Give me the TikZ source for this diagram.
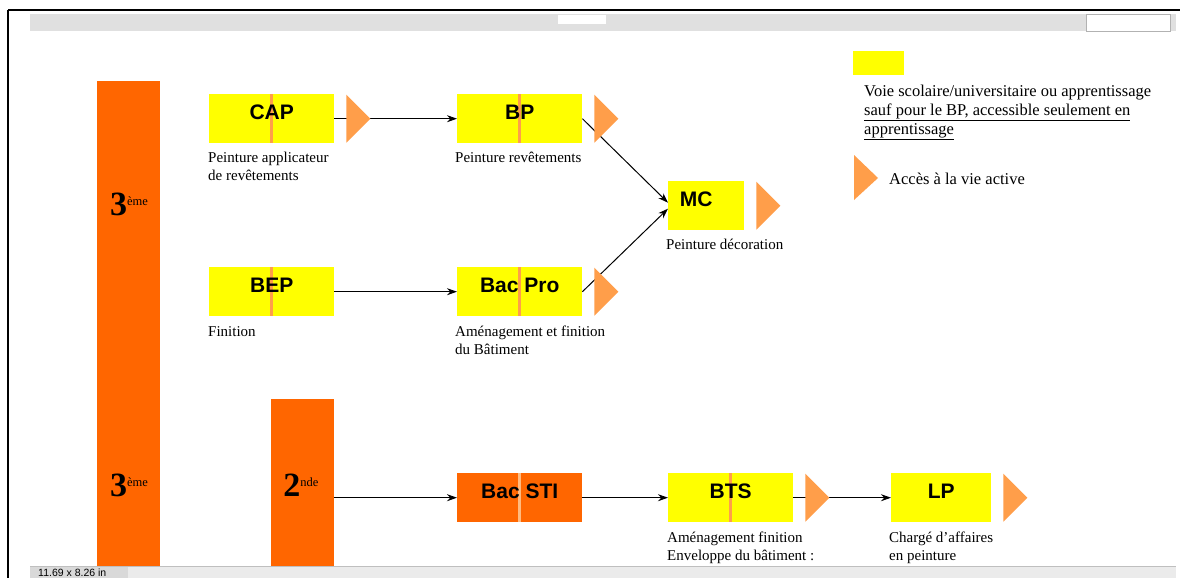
\documentclass[tikz,border=0pt]{standalone}
\usepackage{fontspec}
\setmainfont{Liberation Serif}
\newfontfamily\boxfont{Liberation Sans}
\usetikzlibrary{arrows.meta}

\definecolor{niveau}{HTML}{FF6600}
\definecolor{sortiecol}{HTML}{FF9E4A}
\definecolor{cursuscol}{HTML}{FFFF00}

\begin{document}
\begin{tikzpicture}[x=1pt, y=-1pt,
  cursus/.style={fill=cursuscol, minimum width=125pt, minimum height=49pt, inner sep=0pt, anchor=north west},
  etroit/.style={cursus, minimum width=76pt},
  sti/.style={cursus, fill=niveau},
  barre/.style={fill=niveau, inner sep=0pt, anchor=north west, minimum width=63pt},
  stripe/.style={sortiecol, line width=3pt},
  titre/.style={font=\boxfont\fontsize{21}{21}\selectfont\bfseries},
  sous/.style={anchor=north west, inner sep=0pt, align=left, font=\fontsize{15}{18}\selectfont},
  flow/.style={-{Stealth[length=10pt,width=7pt]}, line width=1pt}]
\useasboundingbox (0,0) rectangle (1180,578);
\fill[white] (0,0) rectangle (1180,578);
% viewer frame and toolbar
\fill[black!12] (30,14) rectangle (1176,31);
\fill[white] (558,15) rectangle (606,24);
\fill[white, draw=black!30] (1086,14) rectangle (1170,31);
\draw[line width=2.5pt] (8,10) -- (1180,10);
\draw[line width=1.5pt] (8,10) -- (8,578);
% levels
\node[barre, minimum height=489pt] (troisieme) at (97,81) {};
\node[barre, minimum height=171pt] (seconde) at (271,399) {};
\node at (129,204) {\textbf{\fontsize{34}{34}\selectfont 3}\raisebox{10pt}{\fontsize{12.5}{12}\selectfont ème}};
\node at (129,485) {\textbf{\fontsize{34}{34}\selectfont 3}\raisebox{10pt}{\fontsize{12.5}{12}\selectfont ème}};
\node at (301,485) {\textbf{\fontsize{34}{34}\selectfont 2}\raisebox{10pt}{\fontsize{12.5}{12}\selectfont nde}};
% diplomas
\node[cursus] (cap) at (209,94) {};
\node[cursus] (bp) at (457,94) {};
\node[etroit] (mc) at (668,181) {};
\node[cursus] (bep) at (209,267) {};
\node[cursus] (bacpro) at (457,267) {};
\node[sti] (bacsti) at (457,473) {};
\node[cursus] (bts) at (668,473) {};
\node[etroit, minimum width=100pt] (lp) at (891,473) {};
\foreach \b in {cap,bp,bep,bacpro,bts}
  \draw[stripe] (\b.north) -- (\b.south);
\draw[stripe, sortiecol!70!white] (bacsti.north) -- (bacsti.south);
\node[titre] at ([yshift=6pt]cap.center) {CAP};
\node[titre] at ([yshift=6pt]bp.center) {BP};
\node[titre] at ([xshift=-10pt,yshift=6pt]mc.center) {MC};
\node[titre] at ([yshift=6pt]bep.center) {BEP};
\node[titre] at ([yshift=6pt]bacpro.center) {Bac Pro};
\node[titre] at ([yshift=6pt]bacsti.center) {Bac STI};
\node[titre] at ([yshift=6pt]bts.center) {BTS};
\node[titre] at ([yshift=6pt]lp.center) {LP};
% specialities
\node[sous] (capt) at (208,152) {Peinture applicateur\\de revêtements};
\node[sous] (bpt) at (455,152) {Peinture revêtements};
\node[sous] (mct) at (666,239) {Peinture décoration};
\node[sous] (bept) at (208,326) {Finition};
\node[sous] (bacprot) at (455,326) {Aménagement et finition\\du Bâtiment};
\node[sous] (btst) at (667,532) {Aménagement finition\\Enveloppe du bâtiment :};
\node[sous] (lpt) at (889,532) {Chargé d’affaires\\en peinture};
% links
\draw[flow] (cap.east) -- (bp.west);
\draw[flow] (bp.east) -- ([yshift=3pt]mc.west);
\draw[flow] (bacpro.east) -- ([yshift=-3pt]mc.west);
\draw[flow] (bep.east) -- (bacpro.west);
\draw[flow] (seconde.east |- bacsti.west) -- (bacsti.west);
\draw[flow] (bacsti.east) -- (bts.west);
\draw[flow] (bts.east) -- (lp.west);
% exits to working life
\foreach \b in {cap,bp,mc,bacpro,bts,lp}
  \fill[sortiecol, shift={(\b.east)}] (12,-24) -- (36,0) -- (12,24) -- cycle;
% legend
\fill[cursuscol] (853,51) rectangle (904,75);
\node[anchor=north west, inner sep=0pt, align=left, font=\fontsize{16.5}{19}\selectfont] (voie) at (864,85)
  {Voie scolaire/universitaire ou apprentissage\\\underline{sauf pour le BP, accessible seulement en}\\\underline{apprentissage}};
\fill[sortiecol] (854,155) -- (878,178) -- (854,200) -- cycle;
\node[anchor=west, inner sep=0pt, font=\fontsize{16.5}{19}\selectfont] (active) at (889,179) {Accès à la vie active};
% status bar
\fill[black!8] (30,566) rectangle (1176,578);
\draw[black!25] (30,566) -- (1176,566);
\fill[black!15] (30,567) rectangle (128,578);
\node[anchor=west, inner sep=0pt, font=\boxfont\fontsize{10.5}{10}\selectfont] (taille) at (38,573) {11.69 x 8.26 in};
\end{tikzpicture}
\end{document}
